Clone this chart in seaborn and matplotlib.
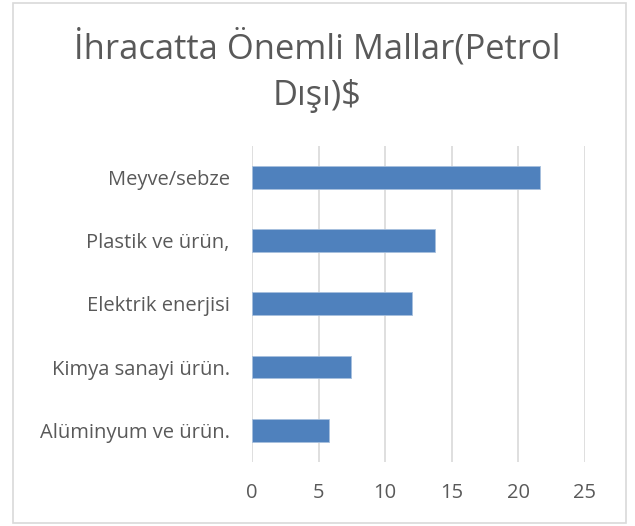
import matplotlib
matplotlib.use('Agg')
import matplotlib.pyplot as plt
import matplotlib.patches as mpatches
import seaborn as sns
import pandas as pd

# veriler (milyar $)
mallar = ["Meyve/sebze", "Plastik ve ürün,", "Elektrik enerjisi",
          "Kimya sanayi ürün.", "Alüminyum ve ürün."]
degerler = [21.6, 13.75, 12.0, 7.4, 5.8]
x_ticks = [0, 5, 10, 15, 20, 25]
baslik = "İhracatta Önemli Mallar(Petrol\nDışı)$"

sns.set_theme(style="white")
plt.rcParams['font.family'] = ['Open Sans', 'DejaVu Sans']

df = pd.DataFrame({"mal": mallar, "deger": degerler})

fig = plt.figure(figsize=(6.35, 5.26), dpi=100)
ax = fig.add_axes([252 / 635, 1 - 462 / 526, 333 / 635, 316.5 / 526])

sns.barplot(data=df, x="deger", y="mal", order=mallar, orient="h",
            color="#4F81BD", saturation=1, width=0.36, ax=ax,
            edgecolor="#A7C0DE", linewidth=0.6)

ax.set_xlim(0, 25)
ax.set_ylim(4.5, -0.5)
ax.set_xticks(x_ticks)
ax.set_xticklabels([str(t) for t in x_ticks])
ax.set_xlabel("")
ax.set_ylabel("")
ax.grid(axis="x", color="#D9D9D9", linewidth=1.2)
ax.set_axisbelow(True)
for s in ax.spines.values():
    s.set_visible(False)
ax.tick_params(axis="both", length=0, colors="#595959", labelsize=14.5)
ax.tick_params(axis="y", pad=16)
ax.tick_params(axis="x", pad=15)

fig.text(0.5, 1 - 71 / 526, baslik, ha="center", va="center",
         fontsize=24.8, color="#595959", fontweight="normal",
         linespacing=1.45)

# dış çerçeve
fig.patches.append(mpatches.Rectangle((13 / 635, 3 / 526), 613 / 635, 520 / 526,
                                      transform=fig.transFigure, fill=False,
                                      edgecolor="#D9D9D9", linewidth=1.2))

fig.savefig("out.png", dpi=100)
